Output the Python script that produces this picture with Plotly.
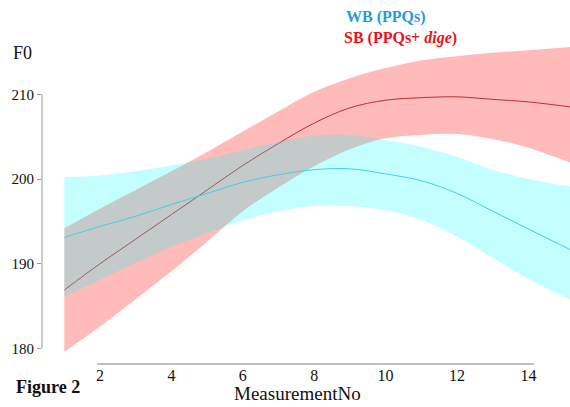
import plotly.graph_objects as go

# Data
measurement = [1, 2, 3, 4, 5, 6, 7, 8, 9, 10, 11, 12, 13, 14, 15.2]

wb_mid = [193.1, 194.4, 195.6, 197.0, 198.3, 199.6, 200.5, 201.1, 201.2, 200.6, 199.8, 198.3, 196.2, 194.1, 191.6]
wb_hi = [200.2, 200.4, 200.9, 201.6, 202.4, 203.4, 204.4, 205.1, 205.2, 204.6, 203.8, 202.6, 201.1, 200.0, 199.1]
wb_lo = [186.1, 188.1, 190.1, 192.0, 193.6, 195.1, 196.2, 196.8, 196.8, 196.3, 195.2, 193.2, 190.7, 188.2, 185.7]

sb_mid = [186.9, 190.0, 192.9, 195.8, 198.7, 201.6, 204.2, 206.6, 208.4, 209.3, 209.6, 209.7, 209.4, 209.1, 208.5]
sb_hi = [194.2, 196.5, 198.7, 200.9, 203.2, 205.6, 208.0, 210.3, 211.9, 213.1, 214.0, 214.5, 214.9, 215.2, 215.6]
sb_lo = [179.6, 182.6, 185.8, 189.1, 192.6, 196.2, 199.0, 201.5, 203.5, 204.8, 205.2, 205.3, 204.7, 203.7, 201.9]

x_ticks = [2, 4, 6, 8, 10, 12, 14]
y_ticks = [180, 190, 200, 210]

SERIF = "Liberation Serif, Times New Roman, serif"
RED_FILL = "rgba(255,0,0,0.27)"
CYAN_FILL = "rgba(0,255,255,0.23)"
RED_LINE = "rgb(190,45,55)"
CYAN_LINE = "rgb(70,205,225)"

fig = go.Figure()

# SB band + line
fig.add_trace(go.Scatter(x=measurement, y=sb_lo, mode="lines", line=dict(width=0, shape="spline"),
                         hoverinfo="skip", showlegend=False))
fig.add_trace(go.Scatter(x=measurement, y=sb_hi, mode="lines", line=dict(width=0, shape="spline"),
                         fill="tonexty", fillcolor=RED_FILL, hoverinfo="skip", showlegend=False))
fig.add_trace(go.Scatter(x=measurement, y=sb_mid, mode="lines",
                         line=dict(color=RED_LINE, width=1, shape="spline"), showlegend=False))

# WB band + line
fig.add_trace(go.Scatter(x=measurement, y=wb_lo, mode="lines", line=dict(width=0, shape="spline"),
                         hoverinfo="skip", showlegend=False))
fig.add_trace(go.Scatter(x=measurement, y=wb_hi, mode="lines", line=dict(width=0, shape="spline"),
                         fill="tonexty", fillcolor=CYAN_FILL, hoverinfo="skip", showlegend=False))
fig.add_trace(go.Scatter(x=measurement, y=wb_mid, mode="lines",
                         line=dict(color=CYAN_LINE, width=1, shape="spline"), showlegend=False))

# Axis lines spanning only the tick range (base-R style)
fig.add_shape(type="line", xref="paper", yref="y", x0=0, x1=0,
              y0=min(y_ticks), y1=max(y_ticks), line=dict(color="#999999", width=1))
fig.add_shape(type="line", xref="x", yref="paper", x0=min(x_ticks) - 0.08, x1=max(x_ticks) + 0.16,
              y0=0, y1=0, line=dict(color="#aaaaaa", width=1.5))

fig.update_layout(
    width=570, height=407,
    margin=dict(l=42, r=0, t=20, b=43),
    paper_bgcolor="white", plot_bgcolor="white",
    font=dict(family=SERIF, color="#111111"),
    xaxis=dict(range=[0.375, 15.165], showgrid=False, zeroline=False, showline=False,
               tickvals=x_ticks, ticktext=[str(t) for t in x_ticks], ticks="",
               tickfont=dict(size=16, family=SERIF, color="#111111")),
    yaxis=dict(range=[178.16, 218.77], showgrid=False, zeroline=False, showline=False,
               tickvals=y_ticks, ticktext=[str(t) for t in y_ticks], ticks="outside",
               ticklen=4, tickcolor="#999999",
               tickfont=dict(size=15, family=SERIF, color="#111111")),
    annotations=[
        dict(text="F0", xref="paper", yref="paper", x=0, y=1, xanchor="left", yanchor="middle",
             showarrow=False, font=dict(size=18, family=SERIF, color="#111111"),
             xshift=-31, yshift=-33),
        dict(text="MeasurementNo", xref="paper", yref="paper", x=0.484, y=0, xanchor="center", yanchor="middle",
             showarrow=False, yshift=-29, font=dict(size=19, family=SERIF, color="#111111")),
        dict(text="<b>Figure 2</b>", xref="paper", yref="paper", x=0, y=0, xanchor="left", yanchor="middle",
             showarrow=False, xshift=-28, yshift=-23, font=dict(size=18, family=SERIF, color="#111111")),
        dict(text="<b>WB (PPQs)</b>", xref="paper", yref="paper", x=0.572, y=1, xanchor="left", yanchor="middle",
             showarrow=False, yshift=3.5, font=dict(size=16, family=SERIF, color="rgb(40,155,215)")),
        dict(text="<b>SB (PPQs+ <i>dige</i>)</b>", xref="paper", yref="paper", x=0.569, y=1,
             xanchor="left", yanchor="middle", showarrow=False, yshift=-17.5,
             font=dict(size=16, family=SERIF, color="rgb(230,20,30)")),
    ],
)

fig.write_html("out.html")
